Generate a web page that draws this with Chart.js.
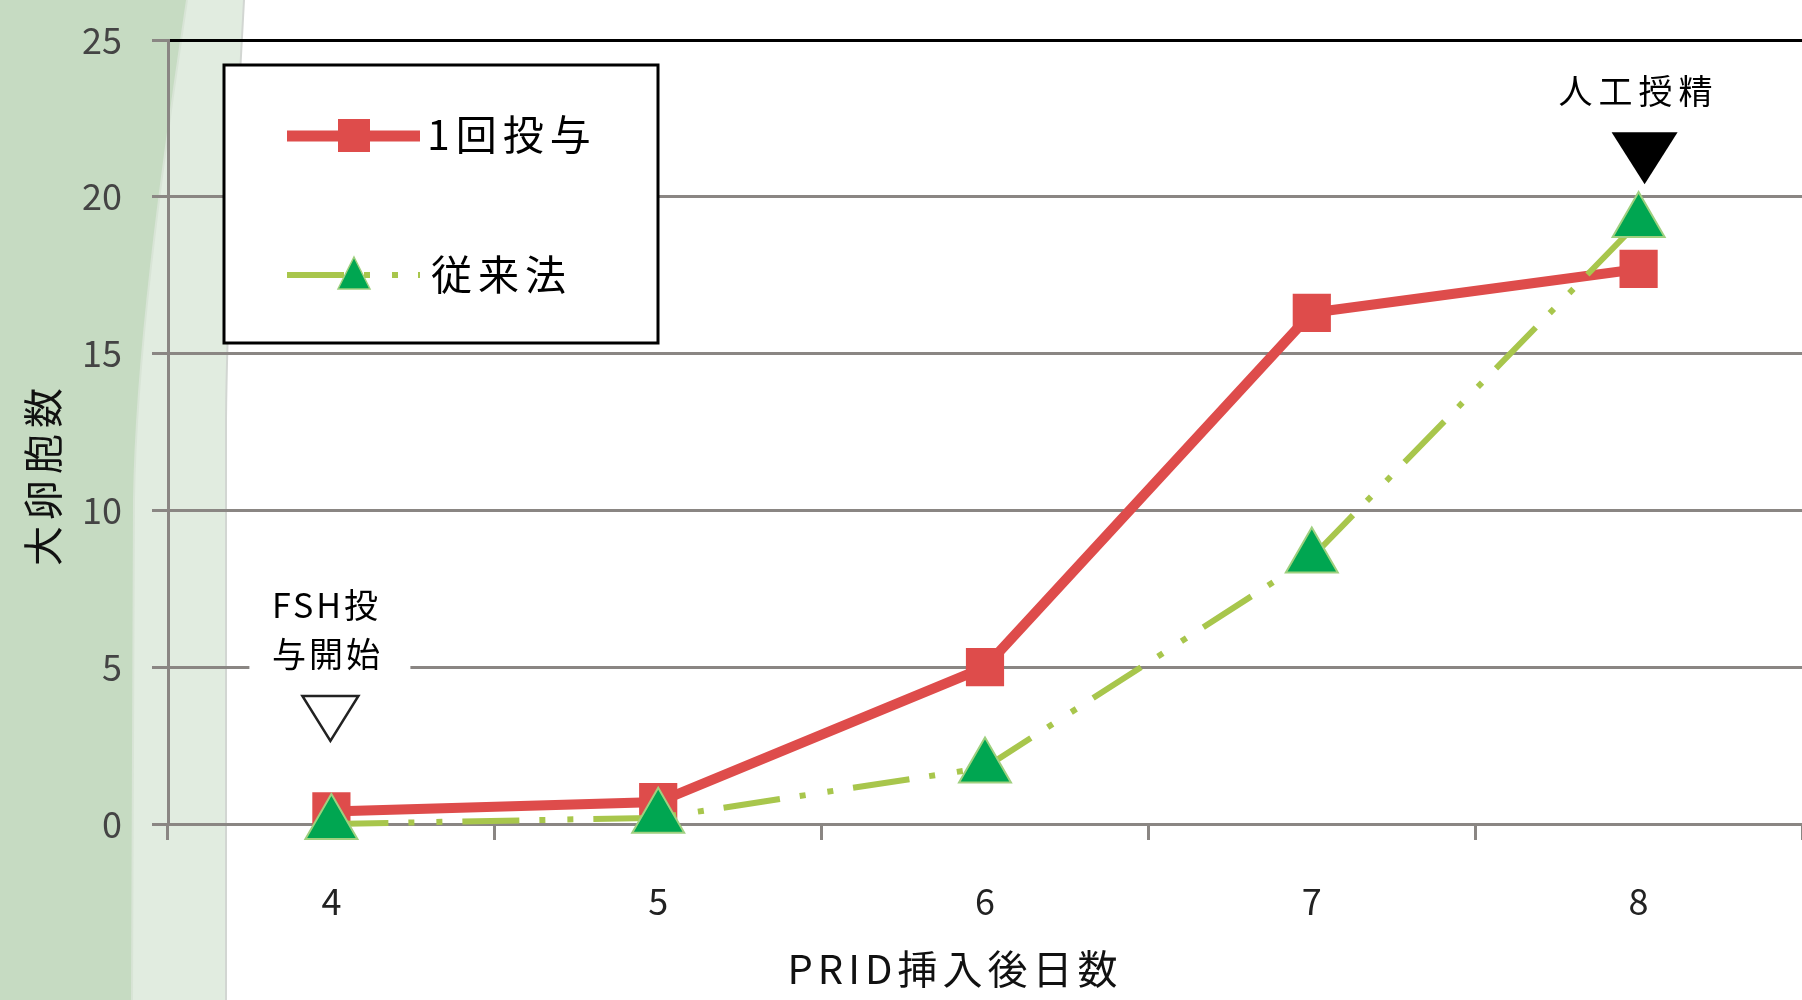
<!DOCTYPE html>
<html><head><meta charset="utf-8">
<script src="https://cdn.jsdelivr.net/npm/chart.js@4.4.1/dist/chart.umd.min.js"></script>
<style>html,body{margin:0;padding:0;background:#fff;overflow:hidden}canvas{display:block}</style>
</head><body><canvas id="c" width="1802" height="1000" style="width:1802px;height:1000px"></canvas>
<script>
// ---- data ----
const categories = ['4', '5', '6', '7', '8'];
const singleDose = [0.4, 0.7, 5.0, 16.3, 17.7];
const conventional = [0.0, 0.2, 1.8, 8.5, 19.2];
const seriesNames = ['1回投与', '従来法'];
const yTicks = [0, 5, 10, 15, 20, 25];
const xTitle = 'PRID挿入後日数';
const yTitle = '大卵胞数';
const fshLabel = ['FSH投', '与開始'];
const aiLabel = ['人工授精'];

const FONT = '"Noto Sans CJK JP", "Noto Sans", sans-serif';
const GRID = '#8a8683';
const RED = '#de4c4b';
const GREENLINE = '#a8c64c';
const DASH = [57, 20, 6, 22, 6, 20];

function noPad(s) { s.paddingTop = 0; s.paddingBottom = 0; s.paddingLeft = 0; s.paddingRight = 0; }

const bgPlugin = {
  id: 'bg',
  beforeDraw(chart) {
    const shift = (scale, dx, dy, sp) => {
      if (!scale || scale._shifted) return;
      const orig = scale.drawTitle.bind(scale);
      scale.drawTitle = function () {
        const c = this.ctx; c.save(); c.translate(dx, dy);
        if ('letterSpacing' in c) c.letterSpacing = sp + 'px';
        orig(); c.restore();
      };
      scale._shifted = true;
    };
    shift(chart.scales.x, -30, 0, 5);
    shift(chart.scales.y, 0, 42, 6);

    const c = chart.ctx, H = chart.height;
    c.save();
    c.fillStyle = '#ffffff';
    c.fillRect(0, 0, chart.width, H);
    c.beginPath();
    c.moveTo(0, 0); c.lineTo(244, 0);
    c.bezierCurveTo(236, 150, 227, 300, 226, 420);
    c.lineTo(226, H); c.lineTo(0, H); c.closePath();
    c.fillStyle = '#e1ece0'; c.fill();
    c.beginPath();
    c.moveTo(244, 0); c.bezierCurveTo(236, 150, 227, 300, 226, 420); c.lineTo(226, H);
    c.strokeStyle = '#d2d6d2'; c.lineWidth = 2; c.stroke();
    c.beginPath();
    c.moveTo(0, 0); c.lineTo(187, 0);
    c.bezierCurveTo(160, 180, 136, 360, 134, 500);
    c.lineTo(132, H); c.lineTo(0, H); c.closePath();
    c.fillStyle = '#c6dbc2'; c.fill();
    c.beginPath();
    c.moveTo(187, 0); c.bezierCurveTo(160, 180, 136, 360, 134, 500); c.lineTo(132, H);
    c.strokeStyle = '#d8e4d6'; c.lineWidth = 2; c.stroke();
    c.restore();
  }
};

const annoPlugin = {
  id: 'anno',
  afterDatasetsDraw(chart) {
    const c = chart.ctx, xs = chart.scales.x, ys = chart.scales.y;
    c.save();
    c.textAlign = 'center'; c.textBaseline = 'middle';
    c.font = '34px ' + FONT;
    if ('letterSpacing' in c) c.letterSpacing = '3px';
    let x = xs.getPixelForValue(0), apex = ys.getPixelForValue(2.65);
    c.fillStyle = '#fff';
    c.fillRect(x - 82, apex - 165, 161, 112);
    c.fillStyle = '#000';
    c.fillText(fshLabel[0], x - 5, apex - 136);
    c.fillText(fshLabel[1], x - 4, apex - 87);
    c.beginPath();
    c.moveTo(x - 29, apex - 45); c.lineTo(x + 27, apex - 45); c.lineTo(x - 1, apex); c.closePath();
    c.fillStyle = '#fff'; c.fill();
    c.strokeStyle = '#222'; c.lineWidth = 2.5; c.stroke();
    x = xs.getPixelForValue(4); apex = ys.getPixelForValue(20.4);
    if ('letterSpacing' in c) c.letterSpacing = '6px';
    c.fillStyle = '#000';
    c.fillText(aiLabel[0], x, apex - 93);
    c.beginPath();
    c.moveTo(x - 27, apex - 52); c.lineTo(x + 39, apex - 52); c.lineTo(x + 6, apex); c.closePath();
    c.fill();
    c.restore();
  }
};

const legendPlugin = {
  id: 'boxLegend',
  afterDraw(chart) {
    const c = chart.ctx;
    c.save();
    c.fillStyle = '#fff';
    c.fillRect(224, 65, 434, 278);
    c.strokeStyle = '#000'; c.lineWidth = 3;
    c.strokeRect(224, 65, 434, 278);
    c.strokeStyle = RED; c.lineWidth = 11; c.lineCap = 'butt';
    c.beginPath(); c.moveTo(287, 136); c.lineTo(420, 136); c.stroke();
    c.fillStyle = RED; c.fillRect(338, 119, 32, 33);
    c.strokeStyle = GREENLINE; c.lineWidth = 6; c.setLineDash(DASH);
    c.beginPath(); c.moveTo(287, 275); c.lineTo(420, 275); c.stroke();
    c.setLineDash([]);
    c.beginPath(); c.moveTo(354, 257); c.lineTo(370, 289); c.lineTo(338, 289); c.closePath();
    c.fillStyle = '#00a651'; c.fill();
    c.strokeStyle = '#9fd07f'; c.lineWidth = 1.5; c.stroke();
    c.fillStyle = '#000'; c.font = '41px ' + FONT;
    if ('letterSpacing' in c) c.letterSpacing = '6px';
    c.textAlign = 'left'; c.textBaseline = 'middle';
    c.fillText(seriesNames[0], 427, 134);
    c.fillText(seriesNames[1], 431, 274);
    c.restore();
  }
};

new Chart(document.getElementById('c'), {
  type: 'line',
  data: {
    labels: categories,
    datasets: [
      { label: seriesNames[0], data: singleDose, borderColor: RED, backgroundColor: RED,
        borderWidth: 10, pointStyle: 'rect', pointRadius: 27, pointHoverRadius: 27,
        pointBackgroundColor: RED, pointBorderWidth: 0, tension: 0, order: 1, clip: false },
      { label: seriesNames[1], data: conventional, borderColor: GREENLINE, backgroundColor: '#00a651',
        borderWidth: 6, borderDash: DASH, pointStyle: 'triangle', pointRadius: 30, pointHoverRadius: 30,
        pointBackgroundColor: '#00a651', pointBorderColor: '#9fd07f', pointBorderWidth: 2,
        tension: 0, order: 0, clip: false }
    ]
  },
  options: {
    responsive: false, devicePixelRatio: 1, animation: false,
    layout: { autoPadding: false, padding: { top: 40, right: 0, bottom: 0, left: 0 } },
    plugins: { legend: { display: false }, tooltip: { enabled: false } },
    scales: {
      x: {
        type: 'category', offset: true,
        grid: { offset: true, drawOnChartArea: false, drawTicks: true, tickLength: 16, color: GRID, lineWidth: 3 },
        border: { display: true, color: GRID, width: 3 },
        ticks: { font: { family: FONT, size: 36 }, color: '#222', padding: 40 },
        title: { display: true, text: xTitle, font: { family: FONT, size: 40 }, color: '#111', padding: { top: 0, bottom: 7 } },
        afterFit(s) { s.height = 176; noPad(s); }
      },
      y: {
        min: 0, max: 25,
        afterBuildTicks(s) { s.ticks = yTicks.map(v => ({ value: v })); },
        ticks: { font: { family: FONT, size: 36 }, color: '#444', padding: 30 },
        grid: { color: c => (c.tick && c.tick.value === 25 ? '#000' : GRID), tickColor: GRID, lineWidth: 3, tickLength: 16 },
        border: { display: true, color: GRID, width: 3 },
        title: { display: true, text: yTitle, font: { family: FONT, size: 40 }, color: '#111', padding: { top: 19, bottom: 0 } },
        afterFit(s) { s.width = 168; noPad(s); }
      }
    }
  },
  plugins: [bgPlugin, annoPlugin, legendPlugin]
});
</script>
</body></html>
